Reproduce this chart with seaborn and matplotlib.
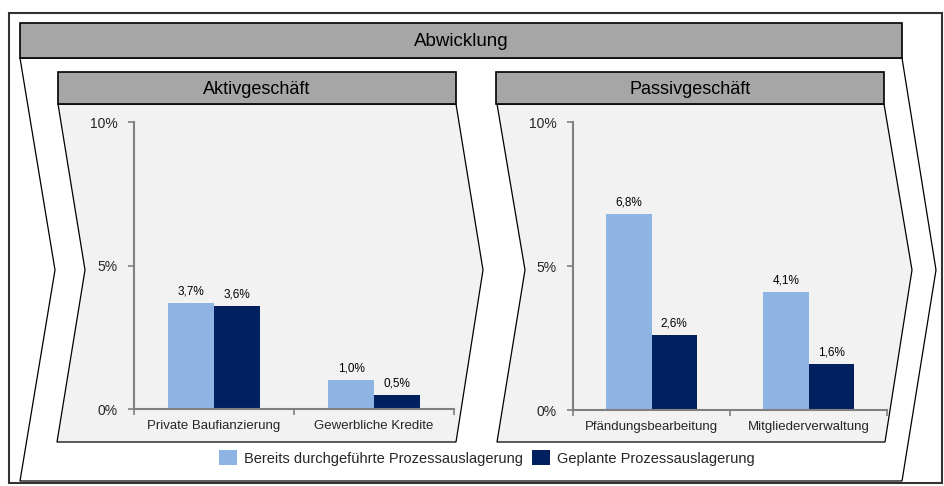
import matplotlib
matplotlib.use("Agg")
import matplotlib.pyplot as plt
from matplotlib.patches import Polygon, Rectangle
import seaborn as sns
import pandas as pd

# ---------------- data ----------------
series = ["Bereits durchgeführte Prozessauslagerung", "Geplante Prozessauslagerung"]
cats_aktiv = ["Private Baufianzierung", "Gewerbliche Kredite"]
done_aktiv = [3.7, 1.0]
planned_aktiv = [3.6, 0.5]
cats_passiv = ["Pfändungsbearbeitung", "Mitgliederverwaltung"]
done_passiv = [6.8, 4.1]
planned_passiv = [2.6, 1.6]
panel_titles = ["Aktivgeschäft", "Passivgeschäft"]
main_title = "Abwicklung"
yticks = [0, 5, 10]
ytick_labels = ["0%", "5%", "10%"]

colors = ["#8DB4E2", "#002060"]

sns.set_theme(style="white")
plt.rcParams['font.family'] = ['Liberation Sans', 'DejaVu Sans']

W, H = 944, 486
fig = plt.figure(figsize=(W / 100, H / 100), dpi=100)

# ---------------- background shapes (pixel coords) ----------------
bg = fig.add_axes([0, 0, 1, 1], zorder=0)
bg.set_xlim(0, W)
bg.set_ylim(H, 0)
bg.axis("off")

bg.add_patch(Rectangle((9, 13), 933, 470, facecolor="white", edgecolor="#333333", lw=1.5))
bg.add_patch(Polygon([(20, 58), (55, 270), (20, 481), (902, 481), (936, 270), (902, 58)],
                     closed=True, facecolor="white", edgecolor="black", lw=0.9))
bg.add_patch(Rectangle((20, 23), 882, 35, facecolor="#A6A6A6", edgecolor="black", lw=1.2))
bg.text(461, 41, main_title, ha="center", va="center", fontsize=13.5, color="black")

panels = [
    dict(poly=[(58, 104), (85, 270), (57, 442), (456, 442), (483, 270), (456, 104)],
         head=(58, 72, 398, 32)),
    dict(poly=[(497, 104), (525, 270), (497, 442), (885, 442), (912, 270), (884, 104)],
         head=(496, 72, 388, 32)),
]
for p, t in zip(panels, panel_titles):
    bg.add_patch(Polygon(p["poly"], closed=True, facecolor="#F2F2F2", edgecolor="black", lw=0.9))
    x, y, w, h = p["head"]
    bg.add_patch(Rectangle((x, y), w, h, facecolor="#A6A6A6", edgecolor="black", lw=1.2))
    bg.text(x + w / 2, y + h / 2 + 1, t, ha="center", va="center", fontsize=13, color="black")

# ---------------- bar charts ----------------
def px_axes(x0, x1, ytop, ybot):
    return fig.add_axes([x0 / W, (H - ybot) / H, (x1 - x0) / W, (ybot - ytop) / H], zorder=1)

axes_boxes = [(134, 454, 122, 409), (573, 887, 122, 410)]
datasets = [(cats_aktiv, done_aktiv, planned_aktiv), (cats_passiv, done_passiv, planned_passiv)]

handles = None
for box, (cats, d1, d2) in zip(axes_boxes, datasets):
    ax = px_axes(*box)
    ax.patch.set_alpha(0)
    df = pd.DataFrame({
        "Kategorie": cats + cats,
        "Wert": d1 + d2,
        "Serie": [series[0]] * len(cats) + [series[1]] * len(cats),
    })
    sns.barplot(data=df, x="Kategorie", y="Wert", hue="Serie", hue_order=series,
                palette=colors, width=0.575, ax=ax, saturation=1, edgecolor="none",
                linewidth=0, errorbar=None)
    for cont in ax.containers:
        ax.bar_label(cont, labels=[f"{v:.1f}%".replace(".", ",") for v in cont.datavalues],
                     padding=4, fontsize=8.5, color="black")
    handles, labels = ax.get_legend_handles_labels()
    ax.get_legend().remove()
    ax.set_ylim(0, 10)
    ax.set_xlim(-0.5, len(cats) - 0.5)
    ax.set_yticks(yticks)
    ax.set_yticklabels(ytick_labels, fontsize=10)
    ax.set_xticks(range(len(cats)))
    ax.set_xticklabels(cats, fontsize=9.5)
    ax.set_xticks([i - 0.5 for i in range(len(cats) + 1)], minor=True)
    ax.set_xlabel("")
    ax.set_ylabel("")
    for s in ["top", "right"]:
        ax.spines[s].set_visible(False)
    for s in ["left", "bottom"]:
        ax.spines[s].set_color("#808080")
        ax.spines[s].set_linewidth(1.5)
    ax.tick_params(axis="y", which="major", left=True, length=4, width=1.2, color="#808080", pad=8)
    ax.tick_params(axis="x", which="major", bottom=False, length=0, pad=8)
    ax.tick_params(axis="x", which="minor", bottom=True, length=4, width=1.2, color="#808080")

fig.legend(handles, series, loc="center", bbox_to_anchor=(487 / W, 1 - 458 / H),
           ncol=2, frameon=False, fontsize=10.5, handlelength=1.2, handleheight=1.2,
           handletextpad=0.5, columnspacing=0.6, borderaxespad=0)

fig.savefig("out.png", dpi=100)
